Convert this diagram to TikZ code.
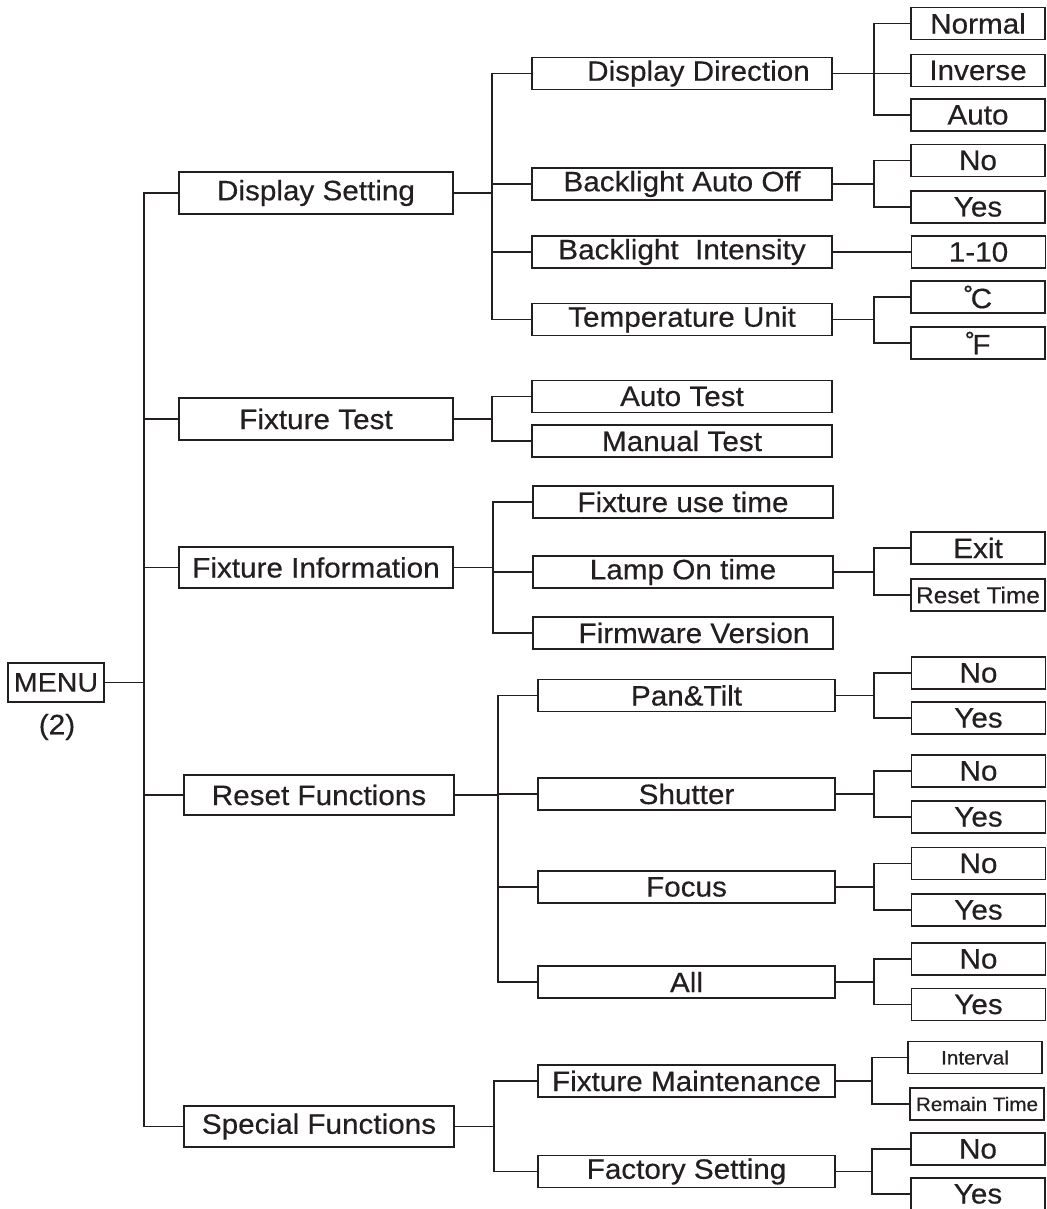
\documentclass[tikz,border=0pt]{standalone}
\usepackage{fontspec}
\setmainfont[FakeStretch=1.06,FakeBold=0.4]{Liberation Sans}
\definecolor{ink}{HTML}{231F20}
\begin{document}
\begin{tikzpicture}[x=1pt,y=-1pt,
  box/.style={draw=ink, line width=1.8pt, inner sep=0pt, text=ink, font=\fontsize{28}{28}\selectfont},
  lone/.style={box, minimum width=274pt, minimum height=42pt},
  lonb/.style={box, minimum width=270pt, minimum height=40pt},
  ltwa/.style={box, minimum width=300pt, minimum height=32pt},
  ltwb/.style={box, minimum width=297pt, minimum height=32pt},
  leaf/.style={box, minimum width=134pt, minimum height=32pt},
  small/.style={font=\fontsize{19.5}{19.5}\selectfont},
  mid/.style={font=\fontsize{23}{23}\selectfont},
  menubox/.style={draw=ink, line width=1.2pt, inner sep=0pt, minimum width=96pt, minimum height=39pt, text=ink, font=\fontsize{27}{27}\selectfont},
  plain/.style={text=ink, inner sep=0pt, font=\fontsize{28}{28}\selectfont},
  wire/.style={draw=ink, line width=1.8pt}]
\useasboundingbox (0,0) rectangle (1046,1209);
% bus coordinates
\coordinate (T) at (144,0);
\coordinate (ba) at (492,0);
\coordinate (bb) at (493,0);
\coordinate (bc) at (498,0);
\coordinate (bd) at (494,0);
\coordinate (c) at (874,0);
\coordinate (cc) at (872,0);
% root
\node[menubox] (menu) at (56,682.5) {MENU};
\node[plain] (two) at (57,727) {(2)};
% level 1
\node[lone] (ds) at (316,193) {Display Setting};
\node[lone] (ft) at (316,419) {Fixture Test};
\node[lone,minimum height=41pt] (fi) at (316,567.5) {Fixture Information};
\node[lonb] (rf) at (319,795) {Reset Functions};
\node[lonb,minimum height=41pt] (sf) at (319,1126.5) {Special Functions};
% level 2
\node[ltwa] (dd) at (682,73.5) {\hspace*{33pt}Display Direction};
\node[ltwa] (bao) at (682,184) {Backlight Auto Off};
\node[ltwa] (bi) at (682,252) {Backlight\ \ Intensity};
\node[ltwa] (tu) at (682,319.5) {Temperature Unit};
\node[ltwa] (at) at (682,396.5) {Auto Test};
\node[ltwa] (mt) at (682,441) {Manual Test};
\node[ltwa] (fut) at (683,502) {Fixture use time};
\node[ltwa] (lot) at (683,572) {Lamp On time};
\node[ltwa] (fv) at (683,633) {\hspace*{22pt}Firmware Version};
\node[ltwb] (pt) at (686.5,695.5) {Pan\&Tilt};
\node[ltwb] (sh) at (686.5,794) {Shutter};
\node[ltwb] (fo) at (686.5,887) {Focus};
\node[ltwb] (al) at (686.5,982) {All};
\node[ltwb] (fm) at (686.5,1081) {Fixture Maintenance};
\node[ltwb] (fs) at (686.5,1171.5) {Factory Setting};
% leaves
\node[leaf] (nor) at (978,23.5) {Normal};
\node[leaf] (inv) at (978,70.5) {Inverse};
\node[leaf] (aut) at (978,115) {Auto};
\node[leaf] (na) at (978,160.5) {No};
\node[leaf] (ya) at (978,207) {Yes};
\node[leaf] (ten) at (978.5,252) {1-10};
\node[leaf] (dc) at (978,297) {˚\kern-3pt C};
\node[leaf] (df) at (978,343) {˚\kern-3pt F};
\node[leaf] (ex) at (978,548) {Exit};
\node[leaf,mid] (rt) at (978,595) {Reset Time};
\node[leaf] (nb) at (978.5,673) {No};
\node[leaf] (yb) at (978.5,718) {Yes};
\node[leaf] (nc) at (978.5,771) {No};
\node[leaf] (yc) at (978.5,817) {Yes};
\node[leaf] (nd) at (978.5,863.5) {No};
\node[leaf] (yd) at (978.5,910) {Yes};
\node[leaf] (ne) at (978.5,959) {No};
\node[leaf] (ye) at (978.5,1004.5) {Yes};
\node[leaf,small] (iv) at (975,1057.5) {Interval};
\node[leaf,small] (rm) at (977,1104) {Remain Time};
\node[leaf] (nf) at (978,1149) {No};
\node[leaf] (yf) at (978,1194) {Yes};
% trunk
\draw[wire] (ds.west) -- (ds.west -| T) -- (sf.west -| T) -- (sf.west);
\draw[wire] (ft.west) -- (ft.west -| T);
\draw[wire] (fi.west) -- (fi.west -| T);
\draw[wire] (rf.west) -- (rf.west -| T);
\draw[wire] (menu.east) -- (menu.east -| T);
% display setting
\draw[wire] (dd.west) -- (dd.west -| ba) -- (tu.west -| ba) -- (tu.west);
\draw[wire] (bao.west) -- (bao.west -| ba);
\draw[wire] (bi.west) -- (bi.west -| ba);
\draw[wire] (ds.east) -- (ds.east -| ba);
% fixture test
\draw[wire] (at.west) -- (at.west -| ba) -- (mt.west -| ba) -- (mt.west);
\draw[wire] (ft.east) -- (ft.east -| ba);
% fixture information
\draw[wire] (fut.west) -- (fut.west -| bb) -- (fv.west -| bb) -- (fv.west);
\draw[wire] (lot.west) -- (lot.west -| bb);
\draw[wire] (fi.east) -- (fi.east -| bb);
% reset functions
\draw[wire] (pt.west) -- (pt.west -| bc) -- (al.west -| bc) -- (al.west);
\draw[wire] (sh.west) -- (sh.west -| bc);
\draw[wire] (fo.west) -- (fo.west -| bc);
\draw[wire] (rf.east) -- (rf.east -| bc);
% special functions
\draw[wire] (fm.west) -- (fm.west -| bd) -- (fs.west -| bd) -- (fs.west);
\draw[wire] (sf.east) -- (sf.east -| bd);
% level 3
\draw[wire] (nor.west) -- (nor.west -| c) -- (aut.west -| c) -- (aut.west);
\draw[wire] (dd.east) -- (dd.east -| inv.west);
\draw[wire] (na.west) -- (na.west -| c) -- (ya.west -| c) -- (ya.west);
\draw[wire] (bao.east) -- (bao.east -| c);
\draw[wire] (bi.east) -- (bi.east -| ten.west);
\draw[wire] (dc.west) -- (dc.west -| c) -- (df.west -| c) -- (df.west);
\draw[wire] (tu.east) -- (tu.east -| c);
\draw[wire] (ex.west) -- (ex.west -| c) -- (rt.west -| c) -- (rt.west);
\draw[wire] (lot.east) -- (lot.east -| c);
\draw[wire] (nb.west) -- (nb.west -| c) -- (yb.west -| c) -- (yb.west);
\draw[wire] (pt.east) -- (pt.east -| c);
\draw[wire] (nc.west) -- (nc.west -| c) -- (yc.west -| c) -- (yc.west);
\draw[wire] (sh.east) -- (sh.east -| c);
\draw[wire] (nd.west) -- (nd.west -| c) -- (yd.west -| c) -- (yd.west);
\draw[wire] (fo.east) -- (fo.east -| c);
\draw[wire] (ne.west) -- (ne.west -| c) -- (ye.west -| c) -- (ye.west);
\draw[wire] (al.east) -- (al.east -| c);
\draw[wire] (iv.west) -- (iv.west -| cc) -- (rm.west -| cc) -- (rm.west);
\draw[wire] (fm.east) -- (fm.east -| cc);
\draw[wire] (nf.west) -- (nf.west -| cc) -- (yf.west -| cc) -- (yf.west);
\draw[wire] (fs.east) -- (fs.east -| cc);
\end{tikzpicture}
\end{document}
